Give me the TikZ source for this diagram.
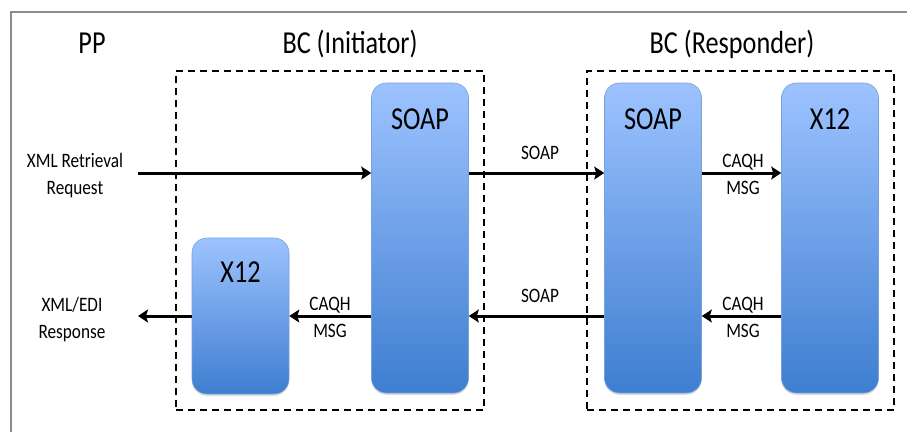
\documentclass[tikz,border=0pt]{standalone}
\usepackage{fontspec}
\setmainfont{Carlito}
\usepackage{tikz}
\usetikzlibrary{arrows.meta,positioning,shadows}
\definecolor{boxtop}{RGB}{157,195,255}
\definecolor{boxbot}{RGB}{62,126,208}
\definecolor{boxedge}{RGB}{120,160,220}
\definecolor{frame}{RGB}{140,140,140}
\begin{document}
\begin{tikzpicture}[x=1pt,y=-1pt,
  proc/.style={rounded corners=15pt,draw=boxedge,line width=0.6pt,top color=boxtop,bottom color=boxbot,
    minimum width=97pt,drop shadow={opacity=0.25,shadow xshift=0pt,shadow yshift=-2pt}},
  group/.style={draw,dashed,dash pattern=on 7pt off 5pt,line width=1.6pt},
  big/.style={font=\fontsize{32}{36}\selectfont,xscale=0.82,anchor=base,inner sep=0pt},
  small/.style={font=\fontsize{20.5}{27}\selectfont,xscale=0.84,align=center,inner sep=0pt},
  flow/.style={line width=3pt,-{Stealth[length=10pt,width=13pt,inset=2pt]}}]
  \useasboundingbox (0,0) rectangle (912,432);
  \draw[frame,line width=1.2pt] (11,432) -- (11,12) -- (907,12);
  % groups
  \node[group,minimum width=308pt,minimum height=339pt] (bci) at (330,240.5) {};
  \node[group,minimum width=307pt,minimum height=339pt] (bcr) at (740.5,240.5) {};
  \node[big] (pp) at (92,53) {PP};
  \node[big] (bcit) at (350,53) {BC (Initiator)};
  \node[big] (bcrt) at (732,53) {BC (Responder)};
  % boxes
  \node[proc,minimum height=310pt] (soapi) at (420,238) {};
  \node[proc,minimum height=156pt] (x12i) at (240.5,316) {};
  \node[proc,minimum height=310pt] (soapr) at (653,238) {};
  \node[proc,minimum height=310pt] (x12r) at (830,238) {};
  \node[big] (soapit) at (420,129) {SOAP};
  \node[big] (x12it) at (240.5,282) {X12};
  \node[big] (soaprt) at (653,129) {SOAP};
  \node[big] (x12rt) at (830,129) {X12};
  % flows
  \coordinate (reqin) at (138,173);
  \coordinate (respout) at (138,316);
  \draw[flow] (reqin) -- (reqin -| soapi.west);
  \draw[flow] (soapi.east |- reqin) -- (soapr.west |- reqin);
  \draw[flow] (soapr.east |- reqin) -- (x12r.west |- reqin);
  \draw[flow] (x12r.west |- respout) -- (soapr.east |- respout);
  \draw[flow] (soapr.west |- respout) -- (soapi.east |- respout);
  \draw[flow] (soapi.west |- respout) -- (x12i.east);
  \draw[flow] (x12i.west) -- (respout);
  % labels
  \node[small] (req) at (75,176) {XML Retrieval\\Request};
  \node[small] (resp) at (72,320) {XML/EDI\\Response};
  \node[small,anchor=base] (soapup) at (540,159) {SOAP};
  \node[small,anchor=base] (soapdn) at (540,302) {SOAP};
  \node[small] (msgup) at (743,174) {CAQH\\MSG};
  \node[small] (msgdn) at (743,317) {CAQH\\MSG};
  \node[small] (msgi) at (330,317) {CAQH\\MSG};
\end{tikzpicture}
\end{document}
